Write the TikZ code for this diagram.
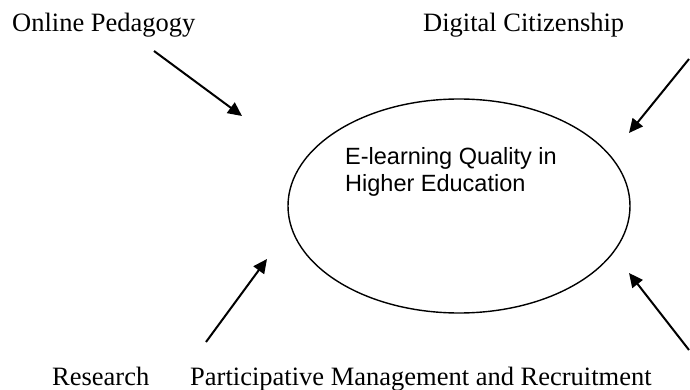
\documentclass[tikz,border=0pt]{standalone}
\usepackage{fontspec}
\setmainfont{Liberation Serif}
\newfontfamily\labsans{Liberation Sans}
\usetikzlibrary{arrows.meta,shapes.geometric}
\begin{document}
\begin{tikzpicture}[x=1pt,y=-1pt,
  lab/.style={anchor=base west,inner sep=0pt,font=\fontsize{26.5}{30}\selectfont},
  arr/.style={line width=2pt,-{Triangle[length=14pt,width=13pt]}},
  hub/.style={draw,ellipse,line width=1.4pt,minimum width=342pt,minimum height=214pt,inner sep=0pt}]
\useasboundingbox (0,0) rectangle (690,390);
\node[hub] (c) at (459,206) {};
\node[anchor=base west,inner sep=0pt,align=left,font=\labsans\fontsize{23.5}{28}\selectfont] (ct) at (345,192) {E-learning Quality in\\Higher Education};
\node[lab] (op) at (12,32) {Online Pedagogy};
\node[lab] (dc) at (423,32) {Digital Citizenship};
\node[lab] (rs) at (52,385) {Research};
\node[lab] (pm) at (190,385) {Participative Management and Recruitment};
\coordinate (s1) at (154,51);  \coordinate (t1) at (242,116);
\coordinate (s2) at (689,59);  \coordinate (t2) at (629,133);
\coordinate (s3) at (206,342); \coordinate (t3) at (267,259);
\coordinate (s4) at (689,350); \coordinate (t4) at (629,273);
\draw[arr] (s1) -- (t1);
\draw[arr] (s2) -- (t2);
\draw[arr] (s3) -- (t3);
\draw[arr] (s4) -- (t4);
\end{tikzpicture}
\end{document}
